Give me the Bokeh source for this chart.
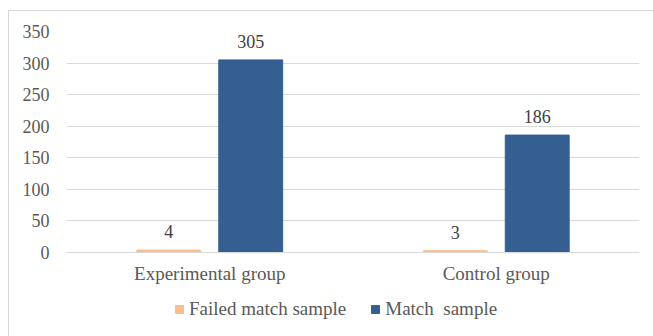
from bokeh.plotting import figure
from bokeh.models import FactorRange, ColumnDataSource, Legend, LegendItem, FixedTicker, LabelSet
from bokeh.transform import dodge
from bokeh.embed import file_html
from bokeh.resources import INLINE

groups = ["Experimental group", "Control group"]
failed = [4, 3]
match = [305, 186]
y_ticks = [0, 50, 100, 150, 200, 250, 300, 350]
series_names = ["Failed match sample", "Match  sample"]

FONT = "Liberation Serif"
GRAY = "#595959"
ORANGE = "#F8BF8E"
BLUE = "#365F91"

src = ColumnDataSource(dict(g=groups, failed=failed, match=match,
                            failed_t=[str(v) for v in failed],
                            match_t=[str(v) for v in match]))

p = figure(x_range=FactorRange(*groups, range_padding=0), y_range=(-125, 350),
           width=645, height=326, output_backend="svg", toolbar_location=None,
           min_border_left=57, min_border_right=15, min_border_top=20, min_border_bottom=6)
p.styles = {"margin-left": "8px", "margin-top": "10px",
            "border-top": "1px solid #d9d9d9", "border-left": "1px solid #d9d9d9"}
p.outline_line_color = None
p.background_fill_color = "white"

r1 = p.vbar(x=dodge("g", -0.143, range=p.x_range), top="failed", width=0.223,
            source=src, color=ORANGE)
r2 = p.vbar(x=dodge("g", 0.143, range=p.x_range), top="match", width=0.223,
            source=src, color=BLUE)

for col, off in (("failed", -0.143), ("match", 0.143)):
    lbl = LabelSet(x=dodge("g", off, range=p.x_range), y=col, text=col + "_t", source=src,
                   text_align="center", text_baseline="bottom", y_offset=12,
                   text_font=FONT, text_font_size="18px", text_color="#404040")
    p.add_layout(lbl)

p.yaxis.ticker = FixedTicker(ticks=y_ticks)
p.yaxis.axis_line_color = None
p.yaxis.major_tick_line_color = None
p.yaxis.major_tick_out = 0
p.yaxis.minor_tick_line_color = None
p.yaxis.major_label_standoff = 17
p.yaxis.major_label_text_font = FONT
p.yaxis.major_label_text_font_size = "18px"
p.yaxis.major_label_text_color = GRAY

p.xaxis.fixed_location = 0
p.xaxis.axis_line_color = "#d9d9d9"
p.xaxis.major_tick_line_color = None
p.xaxis.major_tick_out = 0
p.xaxis.minor_tick_line_color = None
p.xaxis.major_label_standoff = 10
p.xaxis.major_label_text_font = FONT
p.xaxis.major_label_text_font_size = "19px"
p.xaxis.major_label_text_color = GRAY

p.xgrid.grid_line_color = None
p.ygrid.grid_line_color = "#d9d9d9"
p.ygrid.grid_line_width = 1

legend = Legend(items=[LegendItem(label=series_names[0], renderers=[r1]),
                       LegendItem(label=series_names[1], renderers=[r2])],
                orientation="horizontal", location=(108, 11),
                glyph_width=10, glyph_height=10, label_standoff=5, spacing=24,
                padding=0, margin=0, border_line_color=None, background_fill_alpha=0,
                label_text_font=FONT, label_text_font_size="19px", label_text_color=GRAY)
p.add_layout(legend, "center")

open("out.html", "w").write(file_html(p, INLINE))
